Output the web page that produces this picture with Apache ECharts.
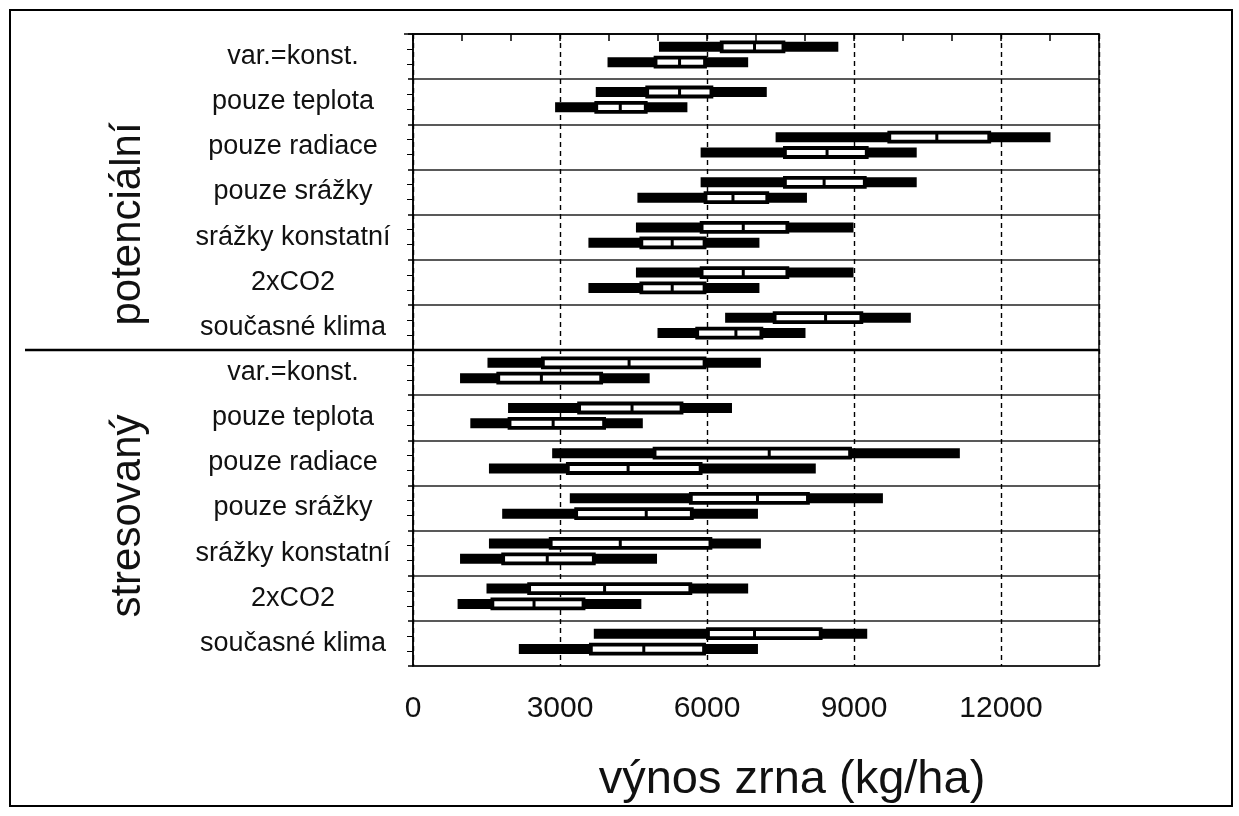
<!DOCTYPE html>
<html>
<head>
<meta charset="utf-8">
<title>výnos zrna</title>
<script src="https://cdn.jsdelivr.net/npm/echarts@6/dist/echarts.min.js"></script>
<style>
  html, body { margin: 0; padding: 0; background: #fff; }
  #chart { width: 1239px; height: 816px; }
</style>
</head>
<body>
<div id="chart"></div>
<script>
// řádky odshora dolů (7x potenciální, 7x stresovaný)
const rowLabels = [
  'var.=konst.', 'pouze teplota', 'pouze radiace', 'pouze srážky',
  'srážky konstatní', '2xCO2', 'současné klima',
  'var.=konst.', 'pouze teplota', 'pouze radiace', 'pouze srážky',
  'srážky konstatní', '2xCO2', 'současné klima'
]
const groupLabels = ['potenciální', 'stresovaný']

// [min, q1, medián, q3, max] – horní krabice v řádku
const upperStats = [
  [5020, 6300, 6970, 7560, 8680],
  [3730, 4780, 5440, 6090, 7220],
  [7400, 9720, 10690, 11760, 13010],
  [5870, 7590, 8390, 9220, 10280],
  [4550, 5890, 6740, 7640, 8990],
  [4550, 5890, 6740, 7640, 8990],
  [6370, 7380, 8420, 9150, 10160],
  [1520, 2650, 4410, 5950, 7100],
  [1940, 3390, 4470, 5480, 6510],
  [2840, 4930, 7270, 8920, 11160],
  [3200, 5670, 7030, 8060, 9590],
  [1550, 2810, 4230, 6070, 7100],
  [1500, 2370, 3910, 5660, 6840],
  [3690, 6020, 6970, 8320, 9270]
]
// [min, q1, medián, q3, max] – dolní krabice v řádku
const lowerStats = [
  [3970, 4950, 5440, 5960, 6840],
  [2900, 3740, 4230, 4750, 5600],
  [5870, 7590, 8450, 9260, 10280],
  [4580, 5970, 6530, 7230, 8040],
  [3580, 4660, 5290, 5950, 7070],
  [3580, 4660, 5290, 5950, 7070],
  [4990, 5800, 6590, 7110, 8010],
  [960, 1740, 2620, 3840, 4830],
  [1170, 1970, 2860, 3900, 4690],
  [1550, 3160, 4390, 5870, 8220],
  [1820, 3330, 4760, 5690, 7040],
  [960, 1840, 2740, 3690, 4980],
  [910, 1620, 2470, 3480, 4660],
  [2160, 3630, 4710, 5940, 7040]
]

const xMax = 14000
const xLabelStep = 3000

const textFont = 'Liberation Sans'

function boxRenderer(offset) {
  return function (params, api) {
    const row = api.value(0)
    const band = api.size([0, 1])[1]
    const yc = api.coord([0, row])[1] + offset * band
    const xMin = api.coord([api.value(1), row])[0]
    const xQ1 = api.coord([api.value(2), row])[0]
    const xMed = api.coord([api.value(3), row])[0]
    const xQ3 = api.coord([api.value(4), row])[0]
    const xMx = api.coord([api.value(5), row])[0]
    return {
      type: 'group',
      children: [
        {
          // vous jako tlustý černý pruh
          type: 'rect',
          shape: { x: xMin, y: yc - 5, width: xMx - xMin, height: 10 },
          style: { fill: '#000' }
        },
        {
          type: 'rect',
          shape: { x: xQ1, y: yc - 4.5, width: xQ3 - xQ1, height: 9 },
          style: { fill: '#fff', stroke: '#000', lineWidth: 3.8 }
        },
        {
          type: 'line',
          shape: { x1: xMed, y1: yc - 4.5, x2: xMed, y2: yc + 4.5 },
          style: { stroke: '#000', lineWidth: 3 }
        }
      ]
    }
  }
}

const chart = echarts.init(document.getElementById('chart'))

chart.setOption({
  backgroundColor: '#fff',
  animation: false,
  grid: {
    left: 413,
    right: 140,
    top: 34,
    bottom: 150,
    show: true,
    borderColor: '#000',
    borderWidth: 1.5
  },
  xAxis: [
    {
      type: 'value',
      min: 0,
      max: xMax,
      interval: 1000,
      name: 'výnos zrna (kg/ha)',
      nameLocation: 'middle',
      nameGap: 91,
      nameTextStyle: {
        fontFamily: textFont,
        fontSize: 47,
        color: '#111',
        padding: [0, 0, 0, 72]
      },
      axisLine: { lineStyle: { color: '#000', width: 1.5 } },
      axisTick: { length: 7, lineStyle: { color: '#000', width: 1.5 } },
      axisLabel: {
        margin: 28,
        fontFamily: textFont,
        fontSize: 30,
        color: '#111',
        formatter: v => (v % xLabelStep === 0 ? String(v) : '')
      },
      splitLine: { show: false }
    },
    {
      // druhá polovina křížků na ose
      type: 'value',
      min: 0,
      max: xMax,
      interval: 1000,
      axisLine: { show: false },
      axisTick: { inside: true, length: 6, lineStyle: { color: '#000', width: 1.5 } },
      axisLabel: { show: false },
      splitLine: { show: false }
    },
    {
      // čárkované svislé čáry
      type: 'value',
      min: 0,
      max: xMax,
      interval: xLabelStep,
      axisLine: { show: false },
      axisTick: { show: false },
      axisLabel: { show: false },
      splitLine: {
        show: true,
        lineStyle: { color: '#000', width: 1.4, type: [5, 4] }
      }
    }
  ],
  yAxis: [
    {
      type: 'value',
      position: 'left',
      min: 0,
      max: rowLabels.length,
      interval: 1,
      inverse: true,
      axisLine: { show: true, lineStyle: { color: '#000', width: 1.5 } },
      axisTick: { show: true, length: 5, lineStyle: { color: '#000', width: 1.5 } },
      minorTick: { show: true, splitNumber: 3, length: 6, lineStyle: { color: '#000' } },
      axisLabel: { show: false },
      splitLine: { show: true, lineStyle: { color: '#222', width: 1.5 } }
    },
    {
      type: 'category',
      position: 'left',
      data: rowLabels,
      inverse: true,
      axisLine: { show: false },
      axisTick: { show: false },
      axisLabel: {
        align: 'center',
        margin: 120,
        fontFamily: textFont,
        fontSize: 27,
        color: '#111'
      },
      splitLine: { show: false }
    }
  ],
  series: [
    {
      name: 'horní',
      type: 'custom',
      xAxisIndex: 0,
      yAxisIndex: 1,
      renderItem: boxRenderer(-0.215),
      encode: { x: [1, 2, 3, 4, 5], y: 0 },
      data: upperStats.map((s, i) => [i].concat(s)),
      z: 5
    },
    {
      name: 'dolní',
      type: 'custom',
      xAxisIndex: 0,
      yAxisIndex: 1,
      renderItem: boxRenderer(0.125),
      encode: { x: [1, 2, 3, 4, 5], y: 0 },
      data: lowerStats.map((s, i) => [i].concat(s)),
      z: 5
    }
  ]
})

// dělicí čára mezi skupinami, rámeček a svislé popisky skupin
const half = rowLabels.length / 2
const ySep = chart.convertToPixel({ yAxisIndex: 0 }, half)
const yTop = chart.convertToPixel({ yAxisIndex: 0 }, 0)
const yBottom = chart.convertToPixel({ yAxisIndex: 0 }, rowLabels.length)
const xRight = chart.convertToPixel({ xAxisIndex: 0 }, xMax)

chart.setOption({
  graphic: [
    {
      type: 'rect',
      shape: { x: 10, y: 10, width: 1222, height: 796 },
      style: { fill: 'none', stroke: '#000', lineWidth: 2 }
    },
    {
      type: 'line',
      shape: { x1: 25, y1: ySep, x2: xRight, y2: ySep },
      style: { stroke: '#000', lineWidth: 2.5 },
      z: 10
    },
    {
      type: 'line',
      shape: { x1: 404, y1: yTop, x2: 413, y2: yTop },
      style: { stroke: '#000', lineWidth: 1.5 }
    },
    {
      type: 'text',
      x: 128,
      y: (yTop + ySep) / 2 + 32,
      rotation: Math.PI / 2,
      style: {
        text: groupLabels[0],
        fontSize: 42,
        fontFamily: textFont,
        textAlign: 'center',
        textVerticalAlign: 'middle',
        fill: '#111'
      }
    },
    {
      type: 'text',
      x: 128,
      y: (ySep + yBottom) / 2 + 8,
      rotation: Math.PI / 2,
      style: {
        text: groupLabels[1],
        fontSize: 42,
        fontFamily: textFont,
        textAlign: 'center',
        textVerticalAlign: 'middle',
        fill: '#111'
      }
    }
  ]
})
</script>
</body>
</html>
